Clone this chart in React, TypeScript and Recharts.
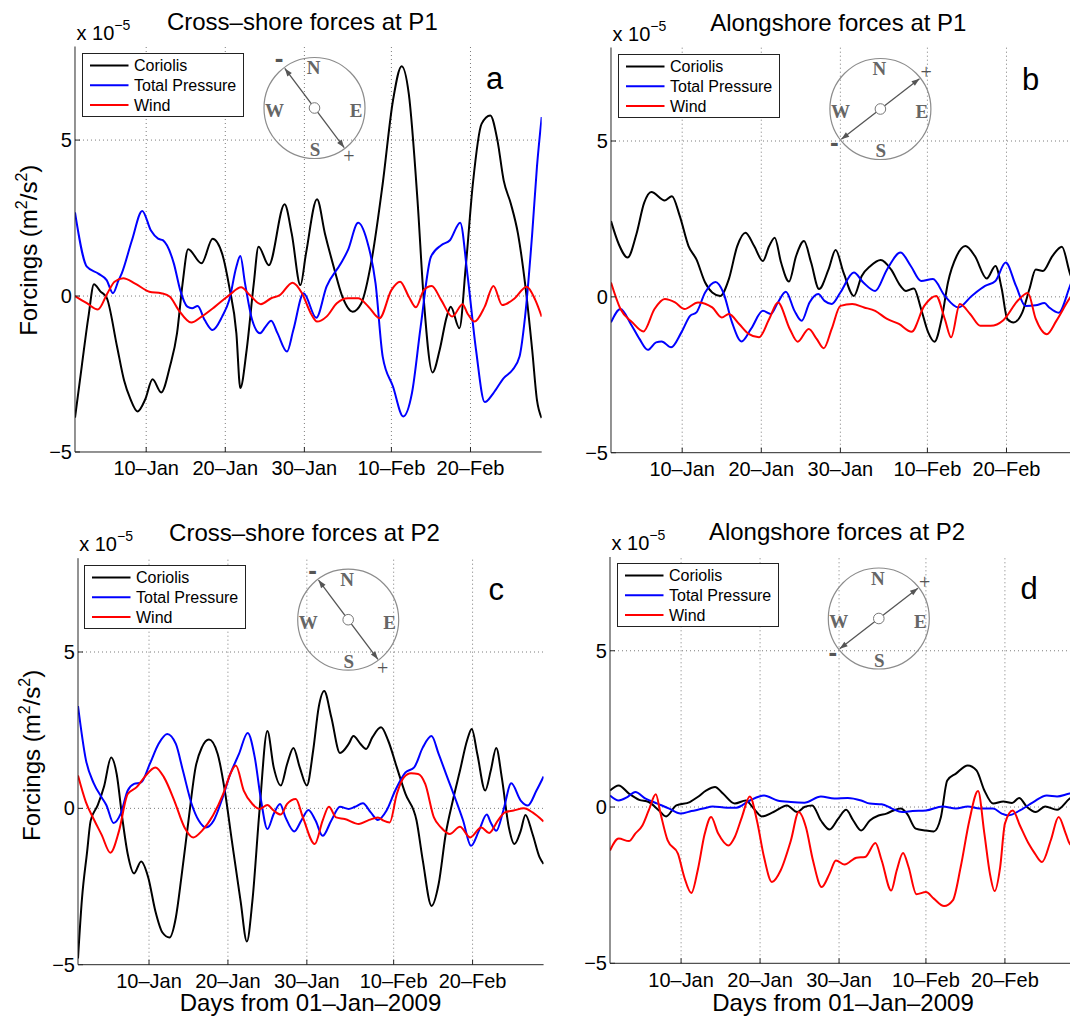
import React from 'react';
import { LineChart, Line, XAxis, YAxis, ReferenceLine, Legend } from 'recharts';

type Pt = [number, number];

// ---- axes / labels ----
const xTickDays = [9, 19, 29, 40, 50]; // days since 01-Jan-2009
const xTickLabels = ['10–Jan', '20–Jan', '30–Jan', '10–Feb', '20–Feb'];
const yTicks = [-5, 0, 5];
const seriesNames = ['Coriolis', 'Total Pressure', 'Wind'];
const seriesColors = ['#000000', '#0000ff', '#ff0000'];
const panelTitles = ['Cross–shore forces at P1', 'Alongshore forces at P1', 'Cross–shore forces at P2', 'Alongshore forces at P2'];
const panelLetters = ['a', 'b', 'c', 'd'];

// ---- data (x 1e-5 m^2/s^2), [day, value] ----
const p1CrossCoriolis: Pt[] = [[0,-3.9],[0.85,-2.26],[1.7,-0.66],[2.4,0.38],[3.2,0.15],[4.0,-0.05],[5.3,-1.6],[6.2,-2.7],[7.0,-3.3],[7.9,-3.7],[8.9,-3.3],[9.8,-2.67],[10.9,-3.09],[12,-2.26],[12.9,-1.19],[13.6,0.4],[14.3,1.5],[16,1.05],[17.4,1.84],[18.6,1.36],[19.5,0.3],[20.4,-1.19],[20.9,-2.95],[21.7,-1.73],[22.6,0.4],[23.2,1.58],[24.5,0.99],[26.5,2.94],[27.4,2.0],[28.5,0.35],[29.2,1.36],[30.6,3.1],[31.6,2.0],[32.7,0.94],[33.8,-0.02],[35.1,-0.5],[36.2,-0.23],[37.5,1.15],[38.9,3.6],[40.2,6.27],[41.3,7.37],[42.2,6.48],[43.3,3.07],[44.1,-0.13],[45.2,-2.45],[46.1,-1.73],[47.0,-0.66],[47.5,-0.34],[48.6,-1.03],[49.4,0.94],[50.3,3.6],[51.4,5.52],[52.5,5.79],[53.4,5.0],[54.2,3.7],[55.1,2.96],[56,2.0],[56.9,0.4],[57.8,-1.73],[58.4,-3.33],[59,-3.91]];
const p1CrossPressure: Pt[] = [[0,2.68],[1.5,0.94],[2.95,0.72],[4.0,0.51],[4.8,0.09],[5.5,0.5],[5.9,0.72],[7.2,1.79],[8.5,2.73],[9.6,2.1],[10.5,1.84],[11.1,1.79],[12.5,1.04],[13.3,0.19],[14.2,-0.34],[14.8,-0.39],[15.5,-0.32],[16.4,-0.77],[17.4,-1.09],[18.6,-0.66],[19.5,-0.13],[20.4,0.94],[20.9,1.28],[21.5,0.4],[22.4,-0.77],[23.4,-1.19],[24.1,-0.98],[24.8,-0.79],[25.6,-1.19],[26.8,-1.78],[27.6,-1.09],[28.9,0.09],[30.5,-0.7],[31.8,0.3],[33.6,1.04],[34.5,1.47],[35.8,2.35],[36.9,1.79],[38,0.4],[38.9,-1.94],[40.2,-2.9],[41.5,-3.86],[42.6,-3.11],[43.7,-0.98],[45,1.26],[46.3,1.63],[47.4,1.79],[48.7,2.35],[49.6,0.72],[50.7,-1.73],[51.8,-3.4],[52.9,-3.11],[54.2,-2.63],[55.3,-2.37],[56.2,-1.94],[56.9,-0.66],[57.8,2.0],[58.4,4.14],[59,5.74]];
const p1CrossWind: Pt[] = [[0,0],[1.5,-0.23],[2.9,-0.43],[4.1,0.09],[5,0.46],[6.1,0.57],[7.6,0.4],[9.4,0.14],[10.9,0.09],[12,-0.02],[13.1,-0.45],[14.7,-0.85],[16,-0.66],[17.7,-0.34],[19.5,0.03],[21,0.28],[22.1,0.03],[23.5,-0.26],[24.8,-0.07],[25.9,0.03],[27.5,0.43],[28.7,0.09],[29.8,-0.55],[30.6,-0.82],[31.8,-0.66],[33.1,-0.23],[34.5,-0.07],[35.8,-0.07],[37.1,-0.34],[38.5,-0.71],[40,0.19],[41.1,0.46],[42.2,-0.02],[43.1,-0.36],[44.1,0.19],[45.1,0.32],[46.3,-0.13],[47.7,-0.66],[49,-0.26],[49.6,-0.55],[50.5,-0.82],[51.8,-0.34],[52.9,0.32],[54,-0.29],[55.6,-0.07],[57.1,0.3],[58.2,-0.13],[59,-0.66]];

const p1AlongCoriolis: Pt[] = [[0,2.43],[1.0,1.68],[2.1,1.26],[3.2,2.0],[4.2,3.02],[5.1,3.36],[6.8,3.09],[7.7,3.23],[8.7,2.59],[9.8,1.63],[10.8,1.2],[11.9,0.46],[12.8,0.14],[13.8,0.03],[14.9,0.57],[15.96,1.63],[17,2.06],[18.1,1.63],[19.2,1.15],[20,1.63],[20.7,1.9],[21.5,1.1],[22.5,0.49],[23.4,1.31],[24.4,1.79],[25.3,1.1],[26.3,0.25],[27.5,0.88],[28.4,1.5],[29.4,0.78],[30.7,0.03],[31.7,0.67],[32.8,0.99],[34.1,1.18],[35.4,0.88],[36.6,0.35],[37.3,0.19],[38.3,0.27],[39.2,-0.39],[40.1,-1.14],[40.9,-1.44],[41.8,-0.71],[42.6,0.46],[43.7,1.31],[44.8,1.63],[46,1.31],[47.5,0.59],[48.6,0.99],[49.4,0.25],[50.1,-0.71],[50.9,-0.82],[52,-0.5],[52.9,0.25],[53.7,0.88],[54.6,0.83],[55.8,1.31],[57.0,1.61],[58,0.77],[59,0.1]];
const p1AlongPressure: Pt[] = [[0,-0.82],[1.2,-0.39],[2.5,-0.87],[3.6,-1.35],[4.65,-1.7],[5.7,-1.46],[6.4,-1.43],[7.6,-1.62],[8.9,-1.14],[10,-0.61],[10.8,-0.5],[11.9,0.14],[13.2,0.48],[14.2,0.14],[15.3,-0.82],[16.5,-1.43],[17.7,-1.03],[19.2,-0.45],[20.2,-0.55],[21.1,-0.18],[22.1,0.16],[23.2,-0.45],[24.1,-0.77],[25.1,-0.18],[26.2,0.09],[27.0,-0.13],[27.9,-0.23],[29,0.14],[30.7,0.78],[31.9,0.46],[33.4,0.19],[34.9,0.88],[36.6,1.42],[37.9,0.99],[39.2,0.51],[40.7,0.57],[42.2,0.03],[43.9,-0.34],[45.6,0.03],[47.3,0.35],[48.6,0.51],[49.9,1.1],[51.2,0.35],[52.4,-0.29],[53.7,-0.27],[54.8,-0.2],[55.4,-0.34],[56.6,-0.51],[58,0.33],[59,1.0]];
const p1AlongWind: Pt[] = [[0,0.46],[1.2,-0.39],[2.7,-0.82],[4.1,-1.11],[5.5,-0.39],[6.8,-0.07],[8.1,-0.18],[9.3,-0.39],[11,-0.18],[12.8,-0.34],[14,-0.66],[14.9,-0.55],[16.2,-0.87],[17.4,-1.19],[18.7,-1.3],[20,-0.71],[21.1,-0.18],[22.6,-1.03],[23.6,-1.44],[25,-1.03],[26,-1.35],[26.9,-1.65],[27.9,-1.03],[29,-0.29],[30.5,-0.23],[32,-0.34],[33.4,-0.45],[34.9,-0.71],[36.4,-0.87],[38,-1.12],[39.6,-0.29],[41.1,0.03],[42.2,-0.71],[43,-1.3],[44.1,-0.23],[45.4,-0.55],[46.7,-0.93],[48,-0.93],[49.6,-0.75],[51.5,-0.1],[52.7,0.12],[53.7,-0.71],[55.1,-1.2],[56.3,-0.77],[58,-0.04],[59,0.3]];

const p2CrossCoriolis: Pt[] = [[0,-4.8],[0.5,-2.9],[1.15,-1.4],[1.6,-0.4],[2.5,0.1],[3.3,0.7],[4.2,1.63],[4.9,1.1],[5.6,-0.29],[6.3,-1.46],[7.1,-2.08],[8.0,-1.7],[8.9,-2.21],[9.8,-3.28],[10.7,-3.97],[11.6,-4.13],[12.4,-3.49],[13.1,-2.21],[14,-0.39],[14.9,1.31],[15.7,1.95],[16.6,2.2],[17.7,1.74],[18.6,0.57],[19.5,-1.04],[20.6,-2.96],[21.4,-4.26],[22.1,-2.96],[23,-0.07],[24,2.47],[24.8,1.31],[25.7,0.73],[26.5,1.42],[27.3,1.93],[28.1,1.31],[29,0.73],[29.8,1.85],[30.5,3.23],[31.2,3.75],[32.1,2.91],[33.2,1.77],[34.3,2.06],[34.9,2.31],[35.8,2.06],[36.5,1.9],[37.3,2.27],[38.4,2.59],[39.3,2.17],[40.4,1.31],[41.5,0.46],[42.9,-0.39],[43.7,-1.68],[44.8,-3.12],[45.7,-2.42],[46.6,-0.82],[47.5,0.25],[48.4,1.2],[49.3,2.17],[49.9,2.54],[50.6,1.74],[51.6,0.57],[52.3,1.2],[53,1.93],[53.7,0.99],[54.6,-0.61],[55.3,-1.14],[56.1,-0.72],[56.7,-0.21],[57.6,-0.82],[58.5,-1.57],[59,-1.78]];
const p2CrossPressure: Pt[] = [[0,3.27],[1,1.55],[2,0.8],[3,0.35],[3.6,0.1],[4.5,-0.47],[5.4,-0.18],[6.3,0.57],[7.1,0.78],[8,0.83],[9.1,1.42],[10.2,2.06],[11.3,2.38],[12.4,2.06],[13.3,1.2],[14.4,0.14],[15.3,-0.39],[16.2,-0.61],[17.2,-0.39],[18.2,0.25],[19.3,1.1],[20.4,1.74],[21.5,2.41],[22.4,1.63],[23.2,0.25],[24,-0.66],[24.8,-0.18],[25.6,0.14],[26.3,-0.29],[27.4,-0.74],[28.3,-0.39],[29.2,-0.05],[30.1,-0.39],[31,-0.88],[32.1,-0.39],[33.2,0.05],[34.3,-0.02],[35.1,0.05],[36.1,0.16],[37.1,-0.13],[38,-0.37],[39.1,-0.07],[40.2,0.57],[41.5,1.15],[42.6,1.31],[43.7,1.95],[44.8,2.31],[45.7,1.74],[46.8,0.99],[47.9,0.25],[48.8,-0.39],[49.8,-1.2],[50.8,-0.72],[51.8,-0.2],[52.3,-0.45],[53,-0.72],[53.9,-0.07],[54.9,0.8],[56.1,0.25],[57,0.09],[58.1,0.57],[59,1.02]];
const p2CrossWind: Pt[] = [[0,1.05],[1,0.2],[2,-0.35],[3,-0.85],[4.1,-1.42],[5.2,-0.72],[6.3,0.46],[7.4,0.67],[8.4,0.99],[9.8,1.31],[10.9,0.99],[12.2,0.25],[13.5,-0.61],[14.6,-0.93],[15.7,-0.72],[17.1,-0.23],[18.4,0.46],[19.3,1.1],[20,1.37],[21,0.57],[22.1,0.14],[23,-0.02],[24,0.11],[24.8,-0.07],[25.7,-0.2],[26.5,0.14],[27.6,0.3],[28.5,-0.29],[30,-1.14],[31,-0.39],[31.8,0.05],[32.7,-0.29],[33.8,-0.34],[35.6,-0.5],[36.9,-0.37],[38,-0.29],[38.7,-0.39],[39.5,-0.45],[40.4,0.46],[41.3,0.99],[42.2,1.12],[43.1,1.1],[44,0.78],[45.1,-0.29],[46,-0.61],[47.1,-0.82],[48.4,-0.59],[49.7,-0.93],[51.1,-0.61],[52.1,-0.79],[53.2,-0.39],[54.1,-0.13],[55.2,-0.07],[56.5,0],[57.6,-0.13],[59,-0.42]];

const p2AlongCoriolis: Pt[] = [[0,0.53],[1.1,0.69],[2.4,0.43],[3.7,0.23],[4.9,0.16],[6.2,-0.11],[7.1,-0.3],[8.4,0.05],[10.1,0.16],[11.1,0.32],[12.2,0.53],[13.3,0.64],[14.3,0.43],[15.8,0.11],[17.2,0.21],[18.2,-0.05],[19.2,-0.3],[20.7,-0.16],[22.4,0.05],[23.7,-0.16],[24.6,0],[25.6,0.05],[26.7,-0.43],[27.8,-0.72],[28.9,-0.37],[29.9,-0.09],[30.8,-0.43],[31.8,-0.75],[32.9,-0.43],[34,-0.27],[35,-0.21],[35.9,-0.11],[36.8,-0.05],[37.6,-0.21],[38.7,-0.69],[40,-0.75],[41,-0.78],[41.9,-0.32],[42.7,0.85],[43.8,1.07],[45.3,1.33],[46.4,1.17],[47.4,0.53],[48.5,0.11],[49.8,0.18],[50.9,0.13],[51.8,0.29],[52.8,0],[53.9,-0.16],[55.1,0.02],[56.6,-0.09],[58.2,0.27],[59,0.4]];
const p2AlongPressure: Pt[] = [[0,0.37],[1.1,0.21],[2.2,0.32],[3.2,0.48],[4.5,0.27],[6,0.11],[7.5,-0.05],[8.9,-0.21],[10.3,-0.13],[11.8,-0.05],[13,0.02],[14.8,-0.02],[16,-0.02],[17.7,0.21],[19.5,0.37],[21.2,0.21],[22.9,0.16],[24.6,0.14],[26.7,0.34],[28.4,0.27],[30.1,0.29],[31.8,0.21],[32.9,0.11],[34.4,0.09],[35.7,-0.05],[37,-0.16],[38.3,-0.13],[40,-0.11],[42.1,0.02],[43.8,-0.05],[45.3,0.02],[46.8,-0.05],[48.5,-0.05],[49.6,-0.21],[50.4,-0.27],[51.9,-0.11],[53.6,0.16],[55.3,0.37],[56.6,0.34],[58.2,0.43],[59,0.45]];
const p2AlongWind: Pt[] = [[0,-1.39],[1.1,-1.01],[2.4,-1.09],[3.2,-0.85],[4.1,-0.59],[4.9,-0.11],[5.8,0.41],[6.4,-0.21],[7.3,-1.07],[8.6,-1.49],[9.4,-2.24],[10.3,-2.75],[11.1,-2.03],[12,-0.85],[12.8,-0.32],[13.7,-0.85],[15,-1.23],[15.8,-0.96],[16.7,-0.32],[17.7,0.34],[18.6,-0.43],[19.5,-1.6],[20.5,-2.4],[21.6,-2.03],[22.9,-1.07],[23.9,-0.16],[24.8,-0.64],[25.7,-1.71],[26.8,-2.56],[27.8,-2.13],[28.6,-1.71],[29.7,-1.84],[31.2,-1.62],[32.3,-1.6],[33.6,-1.15],[34.4,-1.71],[35.6,-2.67],[36.3,-2.03],[37.1,-1.47],[37.8,-1.92],[38.8,-2.79],[40,-2.72],[41,-2.93],[42.3,-3.17],[43.4,-2.99],[44.4,-1.92],[45.5,-0.43],[46.6,0.51],[47.4,-0.85],[48.1,-2.13],[48.7,-2.69],[49.4,-1.92],[50,-0.53],[51,-0.11],[51.9,-0.59],[53,-1.17],[53.8,-1.49],[54.7,-1.76],[55.8,-1.07],[56.8,-0.32],[57.7,-0.85],[58.2,-1.17],[59,-1.3]];

const panelSeries: Pt[][][] = [
  [p1CrossCoriolis, p1CrossPressure, p1CrossWind],
  [p1AlongCoriolis, p1AlongPressure, p1AlongWind],
  [p2CrossCoriolis, p2CrossPressure, p2CrossWind],
  [p2AlongCoriolis, p2AlongPressure, p2AlongWind],
];

// ---- layout (pixels) ----
const Y_AXIS_W = 50;
const X_AXIS_H = 40;
const RIGHT_M = 5;
const layouts = [
  { left: 25, top: 0, width: 521.7, height: 492, mt: 46.5, compassX: 314.5, axis: 'nwse', xlabel: false },
  { left: 561, top: 0, width: 521.7, height: 492.7, mt: 47.5, compassX: 880.4, axis: 'swne', xlabel: false },
  { left: 27.7, top: 500, width: 520.6, height: 504.7, mt: 58.2, compassX: 348.2, axis: 'nwse', xlabel: true },
  { left: 560, top: 500, width: 521, height: 503.3, mt: 57, compassX: 878.8, axis: 'swne', xlabel: true },
];

const SANS = '"Liberation Sans", Arial, Helvetica, sans-serif';
const SERIF = '"Liberation Serif", "Times New Roman", serif';
const AXIS_COLOR = '#262626';
const GRID_COLOR = '#7a7a7a';

const toRows = (pts: Pt[]) => pts.map(([d, v]) => ({ d, v }));

const XTick = (props: any) => {
  const { x, y, payload } = props;
  const idx = xTickDays.indexOf(payload.value);
  return (
    <g>
      <line x1={x} x2={x} y1={y} y2={y - 5} stroke={AXIS_COLOR} strokeWidth={1} />
      <text x={x} y={y + 23.5} textAnchor="middle" fontSize={20} fontFamily={SANS} fill="#000">
        {idx >= 0 ? xTickLabels[idx] : ''}
      </text>
    </g>
  );
};

const YTick = (props: any) => {
  const { x, y, payload } = props;
  const v = payload.value as number;
  const label = v < 0 ? '−' + Math.abs(v) : String(v);
  return (
    <g>
      <line x1={x} x2={x + 5} y1={y} y2={y} stroke={AXIS_COLOR} strokeWidth={1} />
      <text x={x - 3} y={y + 7} textAnchor="end" fontSize={20} fontFamily={SANS} fill="#000">
        {label}
      </text>
    </g>
  );
};

const LegendBox = (props: any) => {
  const payload: any[] = props.payload || [];
  const ordered = seriesNames.map((n, i) => {
    const found = payload.find((p) => p.value === n);
    return { name: n, color: found ? found.color : seriesColors[i] };
  });
  return (
    <svg width={162} height={64} style={{ display: 'block' }}>
      <rect x={0.5} y={0.5} width={161} height={63} fill="#fff" stroke="#222" strokeWidth={1} />
      {ordered.map((e, i) => {
        const ry = 12.6 + i * 19.7;
        return (
          <g key={e.name}>
            <line x1={8} x2={46.5} y1={ry} y2={ry} stroke={e.color} strokeWidth={2} />
            <text x={52} y={ry + 5.6} fontSize={16} fontFamily={SANS} fill="#000">{e.name}</text>
          </g>
        );
      })}
    </svg>
  );
};

function Panel({ idx }: { idx: number }) {
  const L = layouts[idx];
  const series = panelSeries[idx];
  return (
    <div style={{ position: 'absolute', left: L.left, top: L.top }}>
      <LineChart width={L.width} height={L.height} margin={{ top: L.mt, right: RIGHT_M, bottom: 0, left: 0 }}>
        <XAxis
          dataKey="d"
          type="number"
          domain={[0, 59]}
          allowDataOverflow
          ticks={xTickDays}
          interval={0}
          height={X_AXIS_H}
          tickSize={0}
          tickMargin={0}
          tickLine={false}
          axisLine={{ stroke: AXIS_COLOR, strokeWidth: 1 }}
          tick={(p: any) => <XTick {...p} />}
        />
        <YAxis
          type="number"
          domain={[-5, 8]}
          allowDataOverflow
          ticks={yTicks}
          interval={0}
          width={Y_AXIS_W}
          tickSize={0}
          tickMargin={0}
          tickLine={false}
          axisLine={{ stroke: AXIS_COLOR, strokeWidth: 1 }}
          tick={(p: any) => <YTick {...p} />}
        />
        {yTicks.filter((t) => t > -5).map((t) => (
          <ReferenceLine key={'h' + t} y={t} stroke={GRID_COLOR} strokeDasharray="1 3" strokeWidth={1} />
        ))}
        {xTickDays.map((t) => (
          <ReferenceLine key={'v' + t} x={t} stroke={GRID_COLOR} strokeDasharray="1 3" strokeWidth={1} />
        ))}
        {series.map((pts, i) => (
          <Line
            key={seriesNames[i]}
            data={toRows(pts)}
            dataKey="v"
            name={seriesNames[i]}
            type="monotone"
            stroke={seriesColors[i]}
            strokeWidth={2}
            dot={false}
            activeDot={false}
            isAnimationActive={false}
          />
        ))}
        <Legend
          layout="horizontal"
          verticalAlign="middle"
          align="center"
          wrapperStyle={{ left: Y_AXIS_W + 6.5, top: L.mt + 6.3, width: 162, height: 64 }}
          content={LegendBox}
        />
      </LineChart>
    </div>
  );
}

function Compass({ cx, cy, axis }: { cx: number; cy: number; axis: string }) {
  const r = 50.5;
  const u = axis === 'nwse' ? [0.6, 0.8] : [0.79, -0.613];
  const tl = 49.5;
  const tipP = [cx + u[0] * tl, cy + u[1] * tl];
  const tipM = [cx - u[0] * tl, cy - u[1] * tl];
  const head = (tip: number[], dir: number[]) => {
    const bx = tip[0] - dir[0] * 8;
    const by = tip[1] - dir[1] * 8;
    const nx = -dir[1] * 2.8;
    const ny = dir[0] * 2.8;
    return `${tip[0]},${tip[1]} ${bx + nx},${by + ny} ${bx - nx},${by - ny}`;
  };
  const plus = axis === 'nwse' ? [cx + 34.5, cy + 49.3] : [cx + 45.8, cy - 35.8];
  const minus = axis === 'nwse' ? [cx - 35.5, cy - 47.7] : [cx - 46, cy + 35.2];
  const gray = '#666666';
  return (
    <g>
      <circle cx={cx} cy={cy} r={r} fill="none" stroke="#8c8c8c" strokeWidth={1.2} />
      <line x1={tipM[0]} y1={tipM[1]} x2={tipP[0]} y2={tipP[1]} stroke="#555" strokeWidth={1.3} />
      <polygon points={head(tipP, u)} fill="#555" />
      <polygon points={head(tipM, [-u[0], -u[1]])} fill="#555" />
      <circle cx={cx} cy={cy} r={5.3} fill="#fff" stroke="#777" strokeWidth={1} />
      <text x={cx - 1} y={cy - 34} textAnchor="middle" fontSize={19} fontWeight="bold" fontFamily={SERIF} fill={gray}>N</text>
      <text x={cx + 0.5} y={cy + 48.3} textAnchor="middle" fontSize={19} fontWeight="bold" fontFamily={SERIF} fill={gray}>S</text>
      <text x={cx - 40} y={cy + 9.3} textAnchor="middle" fontSize={19} fontWeight="bold" fontFamily={SERIF} fill={gray}>W</text>
      <text x={cx + 41.5} y={cy + 9.3} textAnchor="middle" fontSize={19} fontWeight="bold" fontFamily={SERIF} fill={gray}>E</text>
      <text x={plus[0]} y={plus[1] + 6} textAnchor="middle" fontSize={20} fontFamily={SERIF} fill="#555">+</text>
      <text x={minus[0]} y={minus[1] + 7} textAnchor="middle" fontSize={26} fontWeight="bold" fontFamily={SANS} fill="#555">-</text>
    </g>
  );
}

function Overlay() {
  return (
    <svg width={1070} height={1018} style={{ position: 'absolute', left: 0, top: 0, pointerEvents: 'none' }}>
      {layouts.map((L, i) => {
        const plotLeft = L.left + Y_AXIS_W;
        const plotTop = L.top + L.mt;
        const plotRight = L.left + L.width - RIGHT_M;
        const plotBottom = L.top + L.height - X_AXIS_H;
        const plotCx = (plotLeft + plotRight) / 2;
        return (
          <g key={i}>
            <text x={plotCx - 6} y={plotTop - 17} textAnchor="middle" fontSize={24} fontFamily={SANS} fill="#000">
              {panelTitles[i]}
            </text>
            <text x={plotLeft + 1.5} y={plotTop - 7} fontSize={20} fontFamily={SANS} fill="#000">
              x 10<tspan dy={-10} fontSize={14}>−5</tspan>
            </text>
            <text x={plotRight - 47} y={plotTop + 42} textAnchor="middle" fontSize={31} fontFamily={SANS} fill="#000">
              {panelLetters[i]}
            </text>
            <Compass cx={L.compassX} cy={plotTop + 61.5} axis={L.axis} />
            {i % 2 === 0 && (
              <text
                transform={`translate(${plotLeft - 38},${(plotTop + plotBottom) / 2 + (i === 0 ? 1 : -6)}) rotate(-90)`}
                textAnchor="middle"
                fontSize={24}
                fontFamily={SANS}
                fill="#000"
              >
                Forcings (m<tspan dy={-10} fontSize={16}>2</tspan><tspan dy={10}>/s</tspan><tspan dy={-10} fontSize={16}>2</tspan><tspan dy={10}>)</tspan>
              </text>
            )}
            {L.xlabel && (
              <text x={plotCx} y={1011} textAnchor="middle" fontSize={24} fontFamily={SANS} fill="#000">
                Days from 01–Jan–2009
              </text>
            )}
          </g>
        );
      })}
    </svg>
  );
}

export default function App() {
  return (
    <div
      style={{
        position: 'absolute',
        left: 0,
        top: 0,
        width: 1070,
        height: 1018,
        overflow: 'hidden',
        background: '#fff',
        fontFamily: SANS,
      }}
    >
      {[0, 1, 2, 3].map((i) => (
        <Panel key={i} idx={i} />
      ))}
      <Overlay />
    </div>
  );
}
